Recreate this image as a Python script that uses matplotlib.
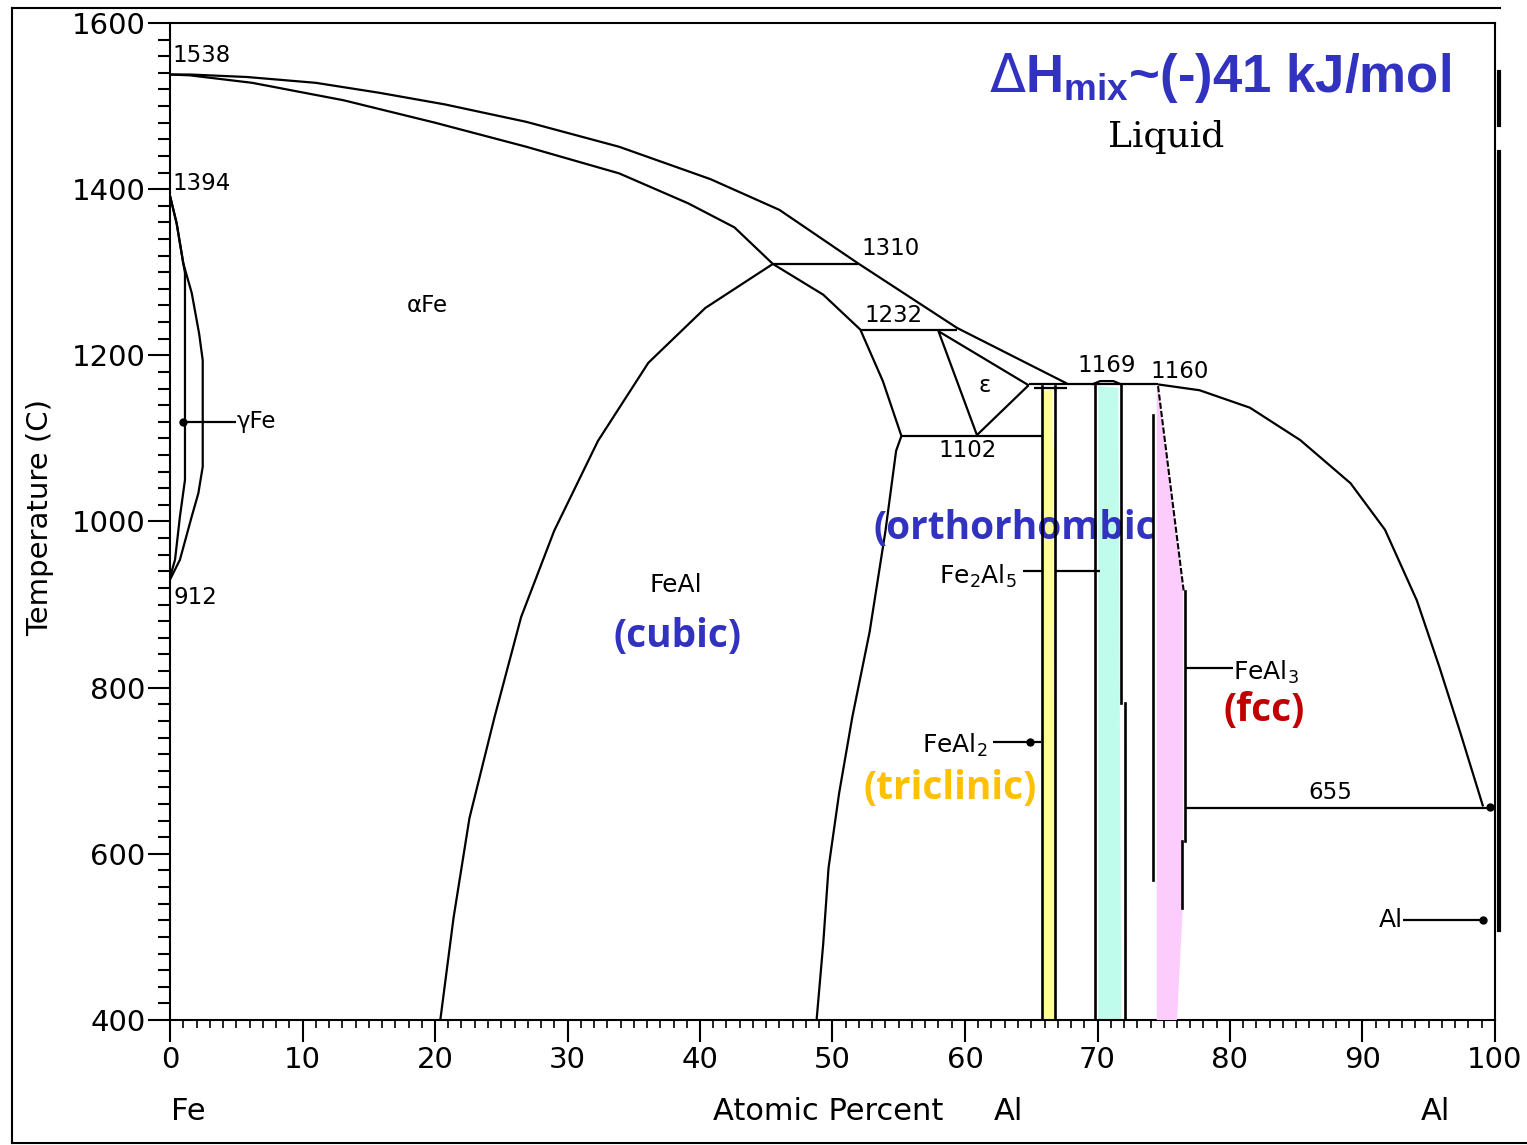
import matplotlib.pyplot as plt
import numpy as np
from matplotlib.lines import Line2D
from matplotlib.patches import Polygon

plt.rcParams['font.family'] = ['DejaVu Sans']
plt.rcParams['mathtext.fontset'] = 'custom'
plt.rcParams['mathtext.rm'] = 'DejaVu Sans'
plt.rcParams['mathtext.bf'] = 'Liberation Sans:bold'

# ---- phase boundaries (at.% Al, temperature C) ----
liq_x = [0, 1.5, 5.8, 11.0, 15.8, 20.75, 26.9, 33.9, 40.8, 46.0, 51.9, 59.4, 67.7]
liq_T = [1538, 1538, 1535, 1528, 1516, 1502, 1481, 1451, 1412, 1375, 1311, 1233, 1166]

sol_x = [0, 1.5, 6.2, 13.1, 20.0, 26.9, 33.9, 39.1, 42.6, 45.5]
sol_T = [1538, 1537, 1528, 1507, 1480, 1451, 1419, 1383, 1354, 1310]

liq_al_x = [74.57, 77.7, 81.5, 85.3, 89.1, 91.7, 94.1, 95.8, 97.4, 99.1]
liq_al_T = [1165, 1158, 1137, 1098, 1046, 990, 905, 825, 745, 657]

b2_left_x = [45.5, 40.4, 36.1, 32.3, 29.0, 26.5, 24.5, 22.6, 21.4, 20.4]
b2_left_T = [1310, 1257, 1191, 1097, 989, 885, 765, 643, 523, 400]

feal_right_x = [45.5, 49.3, 52.1, 53.8, 55.2, 54.8, 54.0, 52.8, 51.5, 50.5, 49.7, 49.3, 48.8]
feal_right_T = [1310, 1273, 1231, 1169, 1103, 1085, 989, 867, 765, 673, 583, 492, 400]

gam_out_x = [0, 0.5, 1.0, 1.64, 2.2, 2.47, 2.47, 2.14, 1.64, 0.75, 0]
gam_out_T = [1392, 1359, 1311, 1275, 1226, 1194, 1066, 1034, 1006, 954, 930]
gam_in_x = [0, 0.5, 1.0, 1.13, 1.13, 0.75, 0.38, 0]
gam_in_T = [1392, 1359, 1311, 1299, 1050, 1006, 954, 933]

eps_x = [64.8, 58.0, 60.9, 64.8]
eps_T = [1164, 1229, 1104, 1164]

bump_x = [69.6, 70.2, 71.2, 71.8]
bump_T = [1165, 1169, 1169, 1165]

# horizontal invariants: (x_start, x_end, T)
ties = [(45.5, 51.9, 1310), (52.1, 59.4, 1231), (55.2, 65.8, 1103),
        (64.8, 74.57, 1165), (65.2, 67.7, 1161), (76.6, 100, 655)]

# vertical phase lines: (x, T_top, T_bottom)
verts = [(65.8, 1163, 400), (66.8, 1163, 400), (69.8, 1165, 400),
         (71.75, 1165, 781), (72.08, 781, 400), (74.2, 1128, 568),
         (76.6, 916, 616), (76.4, 616, 535)]
slant_x = [74.57, 76.5]
slant_T = [1163, 917]

# coloured compound bands
yel_x = [65.9, 66.6, 66.9, 65.9]
yel_T = [1156, 1161, 400, 400]
cya_x = [70.06, 71.57, 71.8, 70.06]
cya_T = [1163, 1161, 400, 400]
pnk_x = [74.57, 76.45, 76.45, 76.0, 74.47, 74.47]
pnk_T = [1163, 921, 541, 400, 400, 1160]

# pointer leaders: (x_start, x_end, T, dot_x)
leaders = [(0.98, 4.98, 1120, 0.98), (64.4, 65.8, 940, None), (66.8, 70.2, 940, None),
           (62.1, 65.7, 735, 64.9), (76.6, 80.2, 824, None), (93.06, 99.1, 520, 99.1)]

W, H = 1527, 1145
fig = plt.figure(figsize=(W / 100, H / 100), dpi=100)
ax = fig.add_axes([170 / W, 1 - 1020 / H, 1325 / W, 997 / H])
ax.set_xlim(0, 100)
ax.set_ylim(400, 1600)

lw = 1.6
k = dict(color='black', lw=lw, zorder=3, solid_capstyle='butt')
ax.plot(liq_x, liq_T, **k)
ax.plot(sol_x, sol_T, **k)
ax.plot(liq_al_x, liq_al_T, **k)
ax.plot(b2_left_x, b2_left_T, **k)
ax.plot(feal_right_x, feal_right_T, **k)
ax.plot(gam_out_x, gam_out_T, **k)
ax.plot(gam_in_x, gam_in_T, **k)
ax.plot(eps_x, eps_T, **k)
ax.plot(bump_x, bump_T, **k)
for x0, x1, t in ties:
    ax.plot([x0, x1], [t, t], **k)
for x, t0, t1 in verts:
    ax.plot([x, x], [t0, t1], color='black', lw=1.9, zorder=6)
ax.plot(slant_x, slant_T, color='black', lw=1.5, zorder=6, ls=(0, (3, 1)))
for x0, x1, t, d in leaders:
    ax.plot([x0, x1], [t, t], **k)
    if d is not None:
        ax.plot([d], [t], 'o', color='black', ms=5, zorder=4)
ax.plot([99.6], [656], 'o', color='black', ms=5, zorder=4)

ax.add_patch(Polygon(np.column_stack([yel_x, yel_T]), closed=True, fc='#ffff99', ec='none', zorder=2))
ax.add_patch(Polygon(np.column_stack([cya_x, cya_T]), closed=True, fc='#c0fcec', ec='none', zorder=2))
ax.add_patch(Polygon(np.column_stack([pnk_x, pnk_T]), closed=True, fc='#fcccfc', ec='none', zorder=5))

# axes styling
for s in ax.spines.values():
    s.set_linewidth(1.5)
ax.set_xticks(np.arange(0, 101, 10))
ax.set_xticks(np.arange(0, 101, 1), minor=True)
ax.set_yticks(np.arange(400, 1601, 200))
ax.set_yticks(np.arange(400, 1601, 20), minor=True)
ax.tick_params(which='major', direction='out', length=15.5, width=1.5, labelsize=21)
ax.tick_params(axis='y', which='major', pad=2)
ax.tick_params(axis='x', which='major', pad=3)
ax.tick_params(axis='y', which='minor', direction='out', length=8.5, width=1.5)
ax.tick_params(axis='x', which='minor', direction='out', length=5.5, width=1.2)

# annotations
small = dict(fontsize=16.5, color='black', zorder=7)
ax.text(0.15, 1561, '1538', ha='left', va='center', **small)
ax.text(0.15, 1407, '1394', ha='left', va='center', **small)
ax.text(0.23, 909, '912', ha='left', va='center', **small)
ax.text(54.4, 1329, '1310', ha='center', va='center', **small)
ax.text(54.6, 1248, '1232', ha='center', va='center', **small)
ax.text(70.7, 1188, '1169', ha='center', va='center', **small)
ax.text(76.2, 1180, '1160', ha='center', va='center', **small)
ax.text(60.2, 1085, '1102', ha='center', va='center', **small)
ax.text(87.6, 674, '655', ha='center', va='center', **small)
ax.text(19.4, 1260, 'αFe', ha='center', va='center', **small)
ax.text(5.06, 1120, 'γFe', ha='left', va='center', **small)
ax.text(61.5, 1164, 'ε', ha='center', va='center', **small)

lab = dict(fontsize=18, color='black', zorder=7)
ax.text(38.2, 923, 'FeAl', ha='center', va='center', **lab)
ax.text(63.9, 925, 'Fe$_2$Al$_5$', ha='right', va='baseline', **lab)
ax.text(61.7, 722, 'FeAl$_2$', ha='right', va='baseline', **lab)
ax.text(80.2, 810, 'FeAl$_3$', ha='left', va='baseline', **lab)
ax.text(93.06, 520, 'Al', ha='right', va='center', **lab)
ax.text(75.2, 1463, 'Liquid', ha='center', va='center', fontsize=26,
        family='DejaVu Serif', zorder=7)

bold = dict(family='Open Sans', fontweight='bold', fontsize=28)
ax.text(38.3, 862, '(cubic)', ha='center', va='center', color='#3232c0', zorder=7, **bold)
ax.text(53.06, 992, '(orthorhombic)', ha='left', va='center', color='#3232c0', zorder=4, **bold)
ax.text(58.9, 679, '(triclinic)', ha='center', va='center', color='#ffc000', zorder=7, **bold)
ax.text(82.6, 772, '(fcc)', ha='center', va='center', color='#c00000', zorder=7, **bold)

fig.text(989 / W, 1 - 92 / H, r'$\Delta\mathbf{H}_{\mathbf{mix}}$~(-)41 kJ/mol',
         ha='left', va='baseline', fontsize=38, family='Liberation Sans',
         fontweight='bold', color='#3232c0')

fig.text(40 / W, 1 - 517 / H, 'Temperature (C)', rotation=90, ha='center', va='center', fontsize=21)
fig.text(188 / W, 1 - 1111 / H, 'Fe', ha='center', va='center', fontsize=22)
fig.text(828 / W, 1 - 1111 / H, 'Atomic Percent', ha='center', va='center', fontsize=22)
fig.text(1008 / W, 1 - 1111 / H, 'Al', ha='center', va='center', fontsize=22)
fig.text(1435 / W, 1 - 1111 / H, 'Al', ha='center', va='center', fontsize=22)

# outer frame
def fline(xs, ys, w):
    fig.add_artist(Line2D([x / W for x in xs], [1 - y / H for y in ys], color='black', lw=w))

fline([12, 12], [8, 1143], 1.5)
fline([12, 1500], [8, 8], 1.5)
fline([12, 1527], [1143, 1143], 1.5)
fline([1498.5, 1498.5], [72, 125], 3)
fline([1498.5, 1498.5], [152, 930], 3)

fig.savefig('out.png', dpi=100)
